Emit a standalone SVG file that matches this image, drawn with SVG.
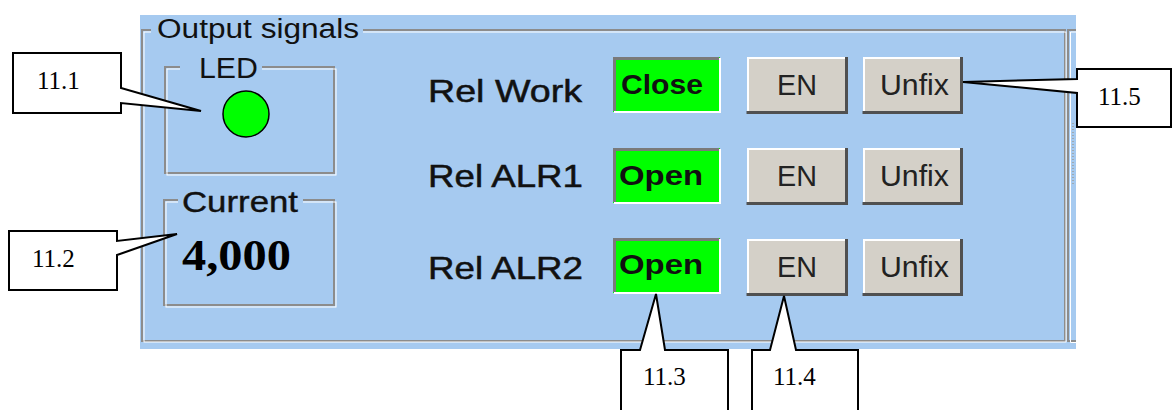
<svg xmlns="http://www.w3.org/2000/svg" width="1173" height="410" viewBox="0 0 1173 410">
  <style>
    .ui { font-family: "Liberation Sans", Arial, sans-serif; fill: #111; }
    .serif { font-family: "Liberation Serif", "Times New Roman", serif; fill: #000; }
    .etch-d { fill: none; stroke: #8c8c8c; stroke-width: 2; }
    .etch-l { fill: none; stroke: #ffffff; stroke-width: 1; }
    .mask { fill: #a6caf0; }
    .state { fill: #00ff00; }
    .sunk-d { fill: none; stroke: #7a7a7a; stroke-width: 3; }
    .sunk-l { fill: none; stroke: #ffffff; stroke-width: 2; }
    .btn { fill: #d4d0c8; }
    .btn-l { fill: none; stroke: #ffffff; stroke-width: 2; }
    .btn-d { fill: none; stroke: #505050; stroke-width: 3; }
    .lbl { font-size: 32px; stroke: #111; stroke-width: 0.5; }
    .st { font-size: 28px; font-weight: bold; }
    .bt { font-size: 29px; fill: #222; }
    .callout { fill: #ffffff; stroke: #000; stroke-width: 2; stroke-linejoin: miter; }
    .ct { font-size: 25px; }
  </style>

  <!-- panel background -->
  <g id="panel">
    <rect x="140" y="15" width="936" height="334" fill="#a6caf0"/>
    <!-- etched group frame -->
    <rect class="etch-d" x="142" y="30" width="923" height="311"/>
    <rect class="etch-l" x="144" y="32" width="922" height="310"/>
    <!-- neighbouring frame edge -->
    <path class="etch-d" d="M1076,30 H1068 V341 H1076"/>
    <path class="etch-l" d="M1076,32 H1070.5 V342.5 H1076"/>
    <line x1="1073" y1="123" x2="1073" y2="184" stroke="#9a8a70" stroke-width="1" stroke-dasharray="1 2"/>
    <rect class="mask" x="151" y="18" width="212" height="20"/>
    <text class="ui" x="157" y="38" font-size="27" textLength="202" lengthAdjust="spacingAndGlyphs">Output signals</text>
  </g>

  <!-- LED indicator -->
  <g id="led-box">
    <rect class="etch-d" x="165" y="67" width="169" height="106"/>
    <rect class="etch-l" x="167" y="69" width="169" height="106"/>
    <rect class="mask" x="180" y="55" width="82" height="20"/>
    <text class="ui" x="199" y="78" font-size="30" textLength="59" lengthAdjust="spacingAndGlyphs">LED</text>
    <circle cx="246" cy="114" r="23" fill="#00ff00" stroke="#000" stroke-width="1.5"/>
  </g>

  <!-- current value -->
  <g id="current-box">
    <rect class="etch-d" x="164" y="200" width="170" height="105"/>
    <rect class="etch-l" x="166" y="202" width="170" height="105"/>
    <rect class="mask" x="178" y="188" width="125" height="20"/>
    <text class="ui" x="182" y="212" font-size="30" textLength="116" lengthAdjust="spacingAndGlyphs" stroke="#111" stroke-width="0.4">Current</text>
    <text class="serif" x="182" y="270" font-size="44" font-weight="bold" textLength="109" lengthAdjust="spacingAndGlyphs">4,000</text>
  </g>

  <!-- relay rows -->
  <g id="row-work">
    <text class="ui lbl" x="428" y="102" textLength="154" lengthAdjust="spacingAndGlyphs">Rel Work</text>
    <g id="state-work">
      <rect class="state" x="613" y="57" width="107" height="55"/>
      <path class="sunk-d" d="M614.5,111 V58.5 H719"/>
      <path class="sunk-l" d="M614,112 H720 V58"/>
      <text class="ui st" x="621" y="94" textLength="82" lengthAdjust="spacingAndGlyphs">Close</text>
    </g>
    <g id="en-work">
      <rect class="btn" x="747" y="57" width="101" height="57"/>
      <path class="btn-l" d="M748,113 V58 H847"/>
      <path class="btn-d" d="M746.5,112.5 H846.5 V57"/>
      <text class="ui bt" x="777" y="95" textLength="40" lengthAdjust="spacingAndGlyphs">EN</text>
    </g>
    <g id="unfix-work">
      <rect class="btn" x="863" y="57" width="100" height="57"/>
      <path class="btn-l" d="M864,113 V58 H962"/>
      <path class="btn-d" d="M862.5,112.5 H961.5 V57"/>
      <text class="ui bt" x="880" y="95" textLength="69" lengthAdjust="spacingAndGlyphs">Unfix</text>
    </g>
  </g>

  <g id="row-alr1">
    <text class="ui lbl" x="428" y="187" textLength="155" lengthAdjust="spacingAndGlyphs">Rel ALR1</text>
    <g id="state-alr1">
      <rect class="state" x="613" y="148" width="107" height="55"/>
      <path class="sunk-d" d="M614.5,202 V149.5 H719"/>
      <path class="sunk-l" d="M614,203 H720 V149"/>
      <text class="ui st" x="619" y="185" textLength="84" lengthAdjust="spacingAndGlyphs">Open</text>
    </g>
    <g id="en-alr1">
      <rect class="btn" x="747" y="148" width="101" height="57"/>
      <path class="btn-l" d="M748,204 V149 H847"/>
      <path class="btn-d" d="M746.5,203.5 H846.5 V148"/>
      <text class="ui bt" x="777" y="186" textLength="40" lengthAdjust="spacingAndGlyphs">EN</text>
    </g>
    <g id="unfix-alr1">
      <rect class="btn" x="863" y="148" width="100" height="57"/>
      <path class="btn-l" d="M864,204 V149 H962"/>
      <path class="btn-d" d="M862.5,203.5 H961.5 V148"/>
      <text class="ui bt" x="880" y="186" textLength="69" lengthAdjust="spacingAndGlyphs">Unfix</text>
    </g>
  </g>

  <g id="row-alr2">
    <text class="ui lbl" x="428" y="279" textLength="155" lengthAdjust="spacingAndGlyphs">Rel ALR2</text>
    <g id="state-alr2">
      <rect class="state" x="613" y="238" width="107" height="55"/>
      <path class="sunk-d" d="M614.5,292 V239.5 H719"/>
      <path class="sunk-l" d="M614,293 H720 V239"/>
      <text class="ui st" x="619" y="274" textLength="84" lengthAdjust="spacingAndGlyphs">Open</text>
    </g>
    <g id="en-alr2">
      <rect class="btn" x="747" y="239" width="101" height="57"/>
      <path class="btn-l" d="M748,295 V240 H847"/>
      <path class="btn-d" d="M746.5,294.5 H846.5 V239"/>
      <text class="ui bt" x="777" y="277" textLength="40" lengthAdjust="spacingAndGlyphs">EN</text>
    </g>
    <g id="unfix-alr2">
      <rect class="btn" x="863" y="239" width="100" height="57"/>
      <path class="btn-l" d="M864,295 V240 H962"/>
      <path class="btn-d" d="M862.5,294.5 H961.5 V239"/>
      <text class="ui bt" x="880" y="277" textLength="69" lengthAdjust="spacingAndGlyphs">Unfix</text>
    </g>
  </g>

  <!-- callout pointers, drawn as one outline with each box -->
  <g id="connectors">
    <g id="callout-11-1">
      <path class="callout" d="M13,53 H121 V88 L201,111 L121,103 V113 H13 Z"/>
      <text class="serif ct" x="37" y="89">11.1</text>
    </g>
    <g id="callout-11-2">
      <path class="callout" d="M9,231 H117 V241 L177,234 L117,255 V290 H9 Z"/>
      <text class="serif ct" x="32" y="267">11.2</text>
    </g>
    <g id="callout-11-3">
      <path class="callout" d="M621,414 V350 H640 L656,294 L665,350 H728 V414"/>
      <text class="serif ct" x="643" y="385">11.3</text>
    </g>
    <g id="callout-11-4">
      <path class="callout" d="M752,414 V350 H770 L784,296 L796,350 H858 V414"/>
      <text class="serif ct" x="773" y="385">11.4</text>
    </g>
    <g id="callout-11-5">
      <path class="callout" d="M1077,69 H1171 V127 H1077 V93 L963,82 L1077,79 Z"/>
      <text class="serif ct" x="1098" y="105">11.5</text>
    </g>
  </g>
</svg>
